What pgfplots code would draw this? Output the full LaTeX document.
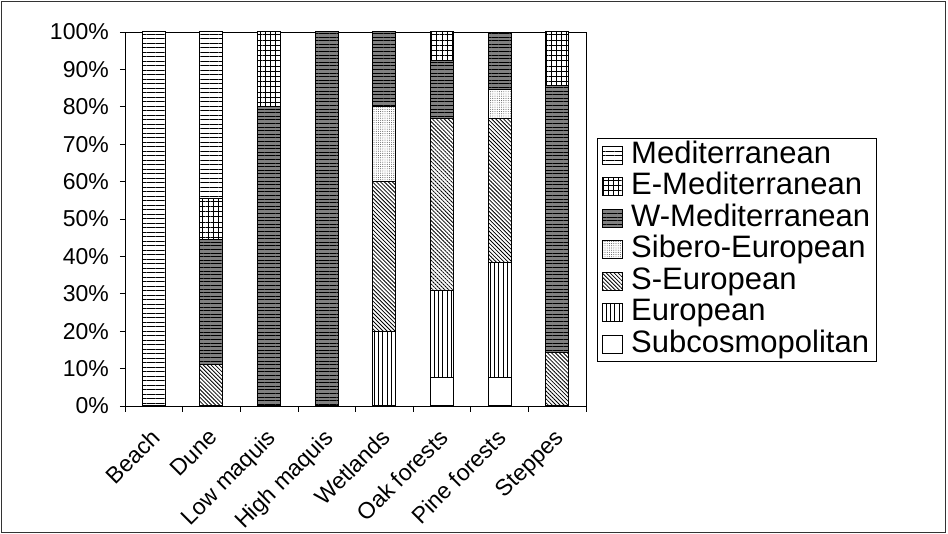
\documentclass[border=0pt]{standalone}
\usepackage{fontspec}
\setmainfont{Liberation Sans}
\usepackage{pgfplots}
\pgfplotsset{compat=1.18}
\usetikzlibrary{patterns,patterns.meta}

\tikzset{
  pSub/.style={fill=white},
  pEur/.style={fill=white, postaction={pattern={Lines[angle=90,distance=4.3pt,line width=0.9pt]}}},
  pSEur/.style={fill=white, postaction={pattern={Lines[angle=-45,distance=2.8pt,line width=0.8pt]}}},
  pSib/.style={fill=white, postaction={pattern={Dots[distance=2.2pt,radius=0.45pt]}, pattern color=black!80}},
  pWMed/.style={fill=black!50, postaction={pattern={Lines[angle=0,distance=3.6pt,line width=1pt]}}},
  pEMed/.style={fill=white, postaction={pattern={Lines[angle=0,distance=5.2pt,line width=0.8pt]}}, postaction={pattern={Lines[angle=90,distance=5.2pt,line width=0.8pt]}}},
  pMed/.style={fill=white, postaction={pattern={Lines[angle=0,distance=4.5pt,line width=1pt]}}},
}

\begin{document}
\begin{tikzpicture}
\useasboundingbox (0,0) rectangle (948pt,534pt);
\draw[line width=1pt, black!80] (1.5pt,1.5pt) rectangle (945pt,532.5pt);
\begin{axis}[
  at={(125pt,128pt)}, anchor=south west,
  width=461pt, height=374pt, scale only axis,
  ybar stacked, bar width=23pt,
  xmin=-0.5, xmax=7.5, ymin=0, ymax=100,
  enlargelimits=false,
  xtick={0,...,7},
  xticklabels={Beach,Dune,Low maquis,High maquis,Wetlands,Oak forests,Pine forests,Steppes},
  minor xtick={-0.5,0.5,...,7.5},
  major x tick style={draw=none},
  ytick={0,10,...,100},
  yticklabel={\pgfmathprintnumber{\tick}\%},
  /pgf/number format/assume math mode=true,
  tick align=outside, tick pos=left,
  major tick length=5pt, minor tick length=6pt,
  tick style={black, line width=0.6pt},
  axis line style={black, line width=0.8pt},
  xticklabel style={font=\fontsize{23}{27}\selectfont, xshift=-4pt, yshift=-15pt, rotate=45, anchor=north east, inner sep=1pt},
  yticklabel style={font=\fontsize{23}{27}\selectfont, inner sep=0pt, xshift=-11pt},
  every axis plot/.append style={draw=black, line width=1pt},
  every axis plot post/.append style={legend image code/.code={\draw[##1, line width=0.8pt] (0pt,-9pt) rectangle (20pt,9pt);}},
  reverse legend,
  legend cell align=left,
  legend style={at={(1.0239,0.7166)}, anchor=north west, draw=black, line width=0.8pt, fill=white,
    font=\fontsize{31}{31}\selectfont, inner xsep=5pt, inner ysep=2pt, row sep=1.5pt,
    nodes={inner sep=1pt, text height=22pt, text depth=6pt},
    /tikz/every odd column/.append style={column sep=7pt}},
]
% order: Beach, Dune, Low maquis, High maquis, Wetlands, Oak forests, Pine forests, Steppes
\addplot[pSub]  coordinates {(0,0) (1,0) (2,0) (3,0) (4,0) (5,7.69) (6,7.69) (7,0)};
\addlegendentry{Subcosmopolitan}
\addplot[pEur]  coordinates {(0,0) (1,0) (2,0) (3,0) (4,20) (5,23.08) (6,30.77) (7,0)};
\addlegendentry{European}
\addplot[pSEur] coordinates {(0,0) (1,11.11) (2,0) (3,0) (4,40) (5,46.15) (6,38.46) (7,14.29)};
\addlegendentry{S-European}
\addplot[pSib]  coordinates {(0,0) (1,0) (2,0) (3,0) (4,20) (5,0) (6,7.69) (7,0)};
\addlegendentry{Sibero-European}
\addplot[pWMed] coordinates {(0,0) (1,33.33) (2,80) (3,100) (4,20) (5,15.38) (6,15.38) (7,71.43)};
\addlegendentry{W-Mediterranean}
\addplot[pEMed] coordinates {(0,0) (1,11.11) (2,20) (3,0) (4,0) (5,7.70) (6,0) (7,14.28)};
\addlegendentry{E-Mediterranean}
\addplot[pMed]  coordinates {(0,100) (1,44.45) (2,0) (3,0) (4,0) (5,0) (6,0) (7,0)};
\addlegendentry{Mediterranean}
\end{axis}
\end{tikzpicture}
\end{document}
